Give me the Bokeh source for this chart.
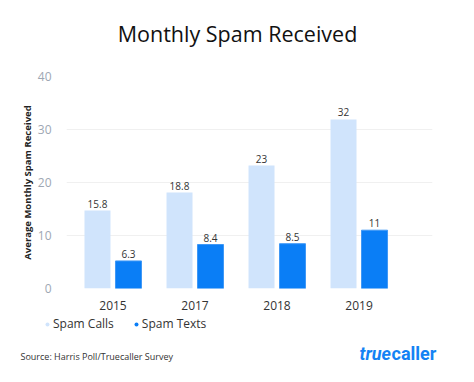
import numpy as np
from bokeh.plotting import figure
from bokeh.layouts import column
from bokeh.models import (Range1d, Label, LabelSet, ColumnDataSource, Legend,
                          LegendItem, FixedTicker)
from bokeh.core.properties import value
from bokeh.transform import dodge
from bokeh.embed import file_html
from bokeh.resources import INLINE

# ---- data ----
title_text = "Monthly Spam Received"
years = ["2015", "2017", "2018", "2019"]
calls = [14.7, 18.1, 23.2, 31.9]          # drawn bar heights
texts = [5.2, 8.3, 8.45, 11.0]
calls_labels = ["15.8", "18.8", "23", "32"]  # printed values
texts_labels = ["6.3", "8.4", "8.5", "11"]
y_ticks = [0, 10, 20, 30, 40]
series_names = ["Spam Calls", "Spam Texts"]

LIGHT = "#d0e4fc"
DARK = "#0a7ef6"
FONT = "Open Sans"

W = 474
H_HEAD = 66
H_MAIN = 246
H_FOOT = 70
FL, FR, FT, FB = 66, 42, 10, 24


def blank(height, y0):
    """A borderless figure whose data units equal page pixels."""
    f = figure(width=W, height=height, output_backend="svg",
               toolbar_location=None, x_range=Range1d(0, W),
               y_range=Range1d(y0 + height, y0), min_border=0,
               x_axis_location=None, y_axis_location=None)
    f.frame_align = False
    f.outline_line_color = None
    f.grid.visible = False
    f.border_fill_color = "white"
    return f


# ---- header: title ----
h = blank(H_HEAD, 0)
h.add_layout(Label(x=237, y=33, text=title_text, text_font=FONT,
                   text_font_size="21.5px", text_color="#111111",
                   text_align="center", text_baseline="alphabetic"))

# ---- main chart ----
p = figure(width=W, height=H_MAIN, output_backend="svg", toolbar_location=None,
           x_range=Range1d(-0.567, 3.896), y_range=Range1d(0, 40),
           min_border_left=FL, min_border_right=FR, min_border_top=FT,
           min_border_bottom=FB)
p.frame_align = False
p.outline_line_color = None
p.border_fill_color = "white"

xs = list(range(len(years)))
src = ColumnDataSource(dict(x=xs, calls=calls, texts=texts,
                            cl=calls_labels, tl=texts_labels))

bw = 0.317
off = 0.189
p.vbar(x=dodge("x", -off, range=p.x_range), top="calls", width=bw, bottom=0,
       source=src, fill_color=LIGHT, line_color=None)
p.vbar(x=dodge("x", off, range=p.x_range), top="texts", width=bw, bottom=0,
       source=src, fill_color=DARK, line_color="#3f98f6", line_width=1)

lab_kw = dict(text_align="center", text_baseline="bottom", y_offset=3,
              text_font_size="10px", text_color="#333333",
              text_font=value(FONT))
p.add_layout(LabelSet(x=dodge("x", -off, range=p.x_range), y="calls", text="cl",
                      source=src, **lab_kw))
p.add_layout(LabelSet(x=dodge("x", off, range=p.x_range), y="texts", text="tl",
                      source=src, **lab_kw))

p.xaxis.ticker = FixedTicker(ticks=xs)
p.xaxis.major_label_overrides = {i: y for i, y in enumerate(years)}
p.yaxis.ticker = FixedTicker(ticks=y_ticks)
for ax in (p.xaxis[0], p.yaxis[0]):
    ax.axis_line_color = None
    ax.major_tick_line_color = None
    ax.minor_tick_line_color = None
    ax.major_label_text_font = FONT
    ax.major_label_text_font_size = "12px"
p.xaxis.major_label_text_color = "#333333"
p.xaxis.major_label_standoff = 6
p.yaxis.major_label_text_color = "#9ea7b3"
p.yaxis.major_label_standoff = 9
p.yaxis.axis_label = "Average Monthly Spam Received"
p.yaxis.axis_label_text_font = FONT
p.yaxis.axis_label_text_font_size = "9.5px"
p.yaxis.axis_label_text_font_style = "bold"
p.yaxis.axis_label_text_color = "#222222"
p.yaxis.axis_label_standoff = 1
p.xgrid.grid_line_color = None
p.ygrid.grid_line_color = "#f0f0f0"
p.ygrid.grid_line_width = 1

# ---- footer: legend, source, logo ----
f = blank(H_FOOT, H_HEAD + H_MAIN)

# legend-only markers (their single point lies outside the visible range)
r1 = f.scatter(x=[-1000], y=[-1000], marker="circle", size=6,
               fill_color=LIGHT, line_color=None)
r2 = f.scatter(x=[-1000], y=[-1000], marker="circle", size=6,
               fill_color=DARK, line_color=None)
leg = Legend(items=[LegendItem(label=series_names[0], renderers=[r1]),
                    LegendItem(label=series_names[1], renderers=[r2])],
             orientation="horizontal", location=(42, 50),
             glyph_width=10, glyph_height=14, label_standoff=1, spacing=17,
             padding=0, margin=0, border_line_color=None,
             background_fill_alpha=0, label_text_font=FONT,
             label_text_font_size="12px", label_text_color="#333333",
             label_height=14)
f.add_layout(leg, "center")

f.add_layout(Label(x=20, y=356, text="Source: Harris Poll/Truecaller Survey",
                   text_font=FONT, text_font_size="9px", text_color="#333333",
                   text_align="left", text_baseline="alphabetic"))
f.add_layout(Label(x=359, y=353, text="true", text_font="Roboto",
                   text_font_style="bold italic", text_font_size="18px",
                   text_color="#1482f4", text_align="left",
                   text_baseline="alphabetic"))
f.add_layout(Label(x=391, y=353, text="caller", text_font="Roboto",
                   text_font_style="bold", text_font_size="18px",
                   text_color="#1482f4", text_align="left",
                   text_baseline="alphabetic"))

layout = column(h, p, f, spacing=0)
open("out.html", "w").write(file_html(layout, INLINE))
